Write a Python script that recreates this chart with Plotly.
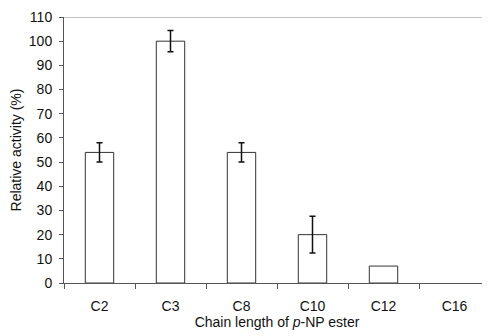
import plotly.graph_objects as go

categories = ["C2", "C3", "C8", "C10", "C12", "C16"]
activity = [54, 100, 54, 20, 7, 0]
errors = [4.0, 4.4, 4.0, 7.6, None, None]
y_ticks = list(range(0, 111, 10))

font_family = "Liberation Sans, Arial, sans-serif"

# only categories that carry an error bar
err_x = [c for c, e in zip(categories, errors) if e is not None]
err_y = [v for v, e in zip(activity, errors) if e is not None]
err_v = [e for e in errors if e is not None]

# zero-height bars get no outline
outline_w = [1 if v > 0 else 0 for v in activity]

fig = go.Figure()
fig.add_trace(go.Bar(
    x=categories,
    y=activity,
    width=0.4,
    marker=dict(color="white", line=dict(color="#333333", width=outline_w)),
    showlegend=False,
))
fig.add_trace(go.Scatter(
    x=err_x, y=err_y, mode="markers",
    marker=dict(size=0.1, color="rgba(0,0,0,0)"),
    error_y=dict(type="data", array=err_v, visible=True,
                 color="#111111", thickness=1.5, width=3),
    showlegend=False, hoverinfo="skip",
))

fig.add_shape(type="line", xref="paper", yref="y", x0=0, x1=1, y0=110, y1=110,
              line=dict(color="#888888", width=1))

fig.update_layout(
    width=482, height=328,
    margin=dict(l=56, r=0, t=9, b=53),
    paper_bgcolor="white", plot_bgcolor="white",
    font=dict(family=font_family, size=14, color="#111111"),
    xaxis=dict(
        type="category", range=[-0.5, 5.5],
        tickson="boundaries", ticks="outside", ticklen=5, tickcolor="#555555",
        showline=True, linecolor="#555555", linewidth=1,
        showgrid=False, zeroline=False,
        tickfont=dict(size=14), ticklabelstandoff=10,
        title=dict(text="Chain length of <i>p</i>-NP ester", font=dict(size=14), standoff=3),
    ),
    yaxis=dict(
        range=[0, 110], tickvals=y_ticks, ticks="outside", ticklen=4, tickcolor="#555555",
        showline=True, linecolor="#555555", linewidth=1,
        showgrid=False, zeroline=False,
        tickfont=dict(size=14), ticklabelstandoff=4,
        title=dict(text="Relative activity (%)", font=dict(size=14), standoff=4),
    ),
)

fig.write_html("out.html")
